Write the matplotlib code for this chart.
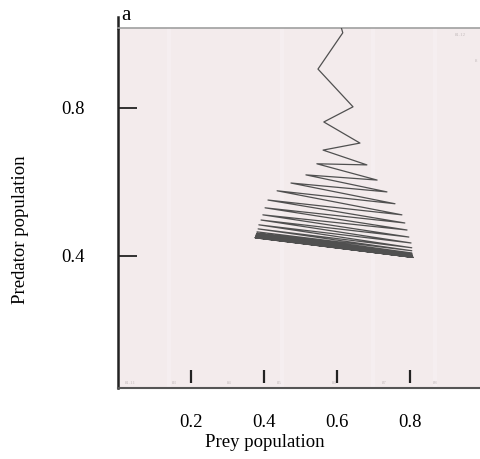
import matplotlib
matplotlib.use("Agg")
import matplotlib.pyplot as plt
from matplotlib.lines import Line2D

plt.rcParams['font.family'] = ['Liberation Serif', 'DejaVu Serif']

# prey / predator iterates of the discrete map
prey = [0.608, 0.616, 0.548, 0.644, 0.564, 0.663, 0.562, 0.682, 0.545, 0.710,
        0.515, 0.737, 0.474, 0.759, 0.436, 0.778, 0.411, 0.786, 0.403, 0.792,
        0.397, 0.797, 0.392, 0.803, 0.386, 0.805, 0.384, 0.805, 0.381, 0.805,
        0.380, 0.806, 0.379, 0.806, 0.378, 0.807, 0.378, 0.807, 0.377, 0.807,
        0.377, 0.808, 0.376, 0.808, 0.376, 0.808]
predator = [1.030, 1.003, 0.905, 0.803, 0.762, 0.705, 0.686, 0.646, 0.649, 0.605,
            0.619, 0.573, 0.597, 0.541, 0.576, 0.511, 0.551, 0.489, 0.530, 0.470,
            0.511, 0.451, 0.497, 0.435, 0.484, 0.422, 0.473, 0.414, 0.465, 0.408,
            0.461, 0.405, 0.458, 0.402, 0.456, 0.400, 0.454, 0.399, 0.452, 0.398,
            0.451, 0.397, 0.450, 0.396, 0.449, 0.396]

xticks = [0.2, 0.4, 0.6, 0.8]
yticks = [0.4, 0.8]
faint_labels = ['81.11', '83', '84', '85', '86', '87', '88']
faint_x = [0.02, 0.15, 0.30, 0.44, 0.59, 0.73, 0.87]

fig = plt.figure(figsize=(4.8, 4.59), dpi=100)
ax = fig.add_axes([118/480, 1-388/459, 362/480, 360/459])
ax.set_facecolor('#f3ebec')
ax.set_xlim(0, 0.992)
ax.set_ylim(0.043, 1.016)

# faint vertical stripes in the background
for xs in [0.14, 0.45, 0.70, 0.87]:
    ax.axvline(xs, color='#f5eef0', lw=3, zorder=0)

ax.plot(prey, predator, color='#505050', lw=0.9, zorder=3)

ax.spines['right'].set_visible(False)
ax.spines['top'].set_color('#a0a0a0')
ax.spines['top'].set_linewidth(1.2)
ax.spines['bottom'].set_color('#555555')
ax.spines['bottom'].set_linewidth(1.5)
ax.spines['left'].set_color('#222222')
ax.spines['left'].set_linewidth(1.8)

# left axis runs a little past the top frame
ax.add_line(Line2D([0, 0], [1.0, 1.03], transform=ax.transAxes, color='#222222',
                   lw=1.8, clip_on=False))

ax.set_yticks(yticks)
ax.set_yticklabels([f'{v:.1f}' for v in yticks])
ax.tick_params(axis='y', direction='in', length=14, width=1.3, color='#222222',
               labelsize=13.5, pad=24)

# x ticks sit just above the bottom line
ax.set_xticks(xticks)
ax.set_xticklabels([f'{v:.1f}' for v in xticks])
ax.tick_params(axis='x', length=0, labelsize=13.5, pad=19)
ax.vlines(xticks, 0.014, 0.05, transform=ax.get_xaxis_transform(),
          color='#222222', lw=1.6, zorder=4)

for lab, xv in zip(faint_labels, faint_x):
    ax.text(xv, 0.008, lab, transform=ax.transAxes, fontsize=3.5,
            color='#c4bcbd', va='bottom')
ax.text(0.93, 0.985, '81.12', transform=ax.transAxes, fontsize=3.5,
        color='#c4bcbd', va='top')
ax.text(0.985, 0.915, '8.', transform=ax.transAxes, fontsize=3.5,
        color='#c4bcbd', va='top')

ax.set_xlabel('Prey population', fontsize=13.5)
ax.xaxis.set_label_coords(0.406, -0.152)
ax.xaxis.label.set_va('center')
ax.set_ylabel('Predator population', fontsize=13.5)
ax.yaxis.set_label_coords(-0.27, 0.44)
ax.yaxis.label.set_va('center')

ax.text(0.008, 1.022, 'a', transform=ax.transAxes, fontsize=15, va='baseline')

fig.savefig('out.png', dpi=100)
